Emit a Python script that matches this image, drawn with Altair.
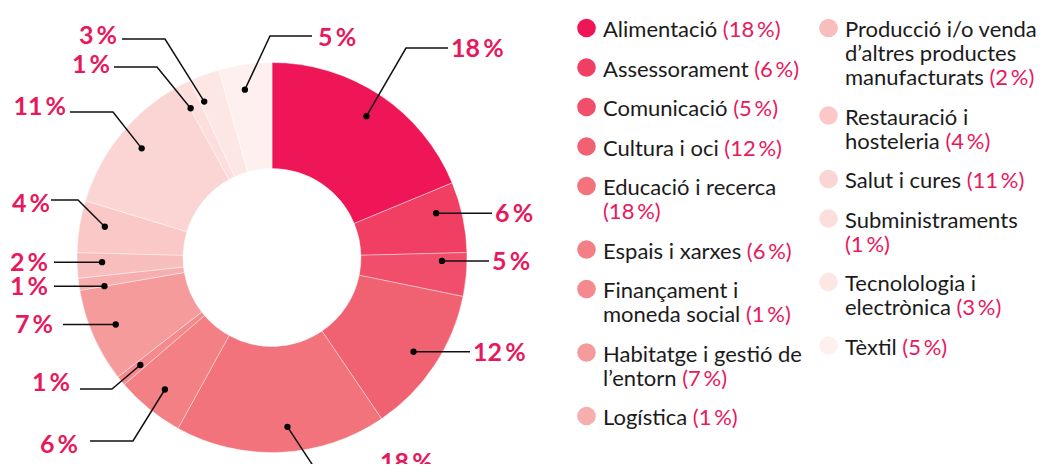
import math
import altair as alt
import pandas as pd

# ---------------- data ----------------
CATEGORIES = [
    "Alimentació", "Assessorament", "Comunicació", "Cultura i oci",
    "Educació i recerca", "Espais i xarxes", "Finançament i moneda social",
    "Habitatge i gestió de l’entorn", "Logística",
    "Producció i/o venda d’altres productes manufacturats",
    "Restauració i hosteleria", "Salut i cures", "Subministraments",
    "Tecnolologia i electrònica", "Tèxtil",
]
# slice sizes as read from the drawn wedges (%)
SHARES = [18.75, 5.85, 3.6, 12.3, 17.5, 5.7, 0.8, 7.8, 1.0, 2.1, 4.3, 12.3, 1.1, 2.5, 4.4]
# percentages printed on the chart
PCT_LABELS = [18, 6, 5, 12, 18, 6, 1, 7, 1, 2, 4, 11, 1, 3, 5]
COLORS = [
    "#EE1657", "#F03F62", "#F04E6A", "#F06172", "#F2737C", "#F38085",
    "#F48A8D", "#F59B9C", "#F6AEAE", "#F8BEBE", "#FAC9C7", "#FBD5D3",
    "#FCDEDC", "#FDE7E5", "#FEF0EE",
]
# legend wording, wrapped as in the original (pct appended to last line)
LEGEND_LINES = [
    ["Alimentació"], ["Assessorament"], ["Comunicació"], ["Cultura i oci"],
    ["Educació i recerca", ""], ["Espais i xarxes"],
    ["Finançament i", "moneda social"], ["Habitatge i gestió de", "l’entorn"],
    ["Logística"],
    ["Producció i/o venda", "d’altres productes", "manufacturats"],
    ["Restauració i", "hosteleria"], ["Salut i cures"], ["Subministraments", ""],
    ["Tecnolologia i", "electrònica"], ["Tèxtil"],
]

# ---------------- layout ----------------
W, H, OFF = 1032, 456, 8
CX, CY = 272, 257.5
R_OUT, R_IN, R_DOT = 195, 89, 170
PINK = "#E8185C"
INK = "#1B1B1B"
FONT = "Lato"
LEG_FS = 22
LAB_FS = 25

# per label: (position inside slice, align, text x, text y, elbow x, elbow y, line end x)
LABEL_LAYOUT = [
    (0.50, "left", 451, 48, 406, 48, 448),
    (0.35, "left", 495, None, None, None, 492),
    (0.20, "left", 492, None, None, None, 489),
    (0.50, "left", 473, None, None, None, 470),
    (0.46, "left", 380, 462, 329, 490, 377),
    (0.50, "right", 78, 444, 133, 441, 90),
    (0.50, "right", 70, 382, 112, 389, 80),
    (0.52, "right", 53, None, None, None, 63),
    (0.00, "right", 48, None, None, None, 54),
    (0.60, "right", 48, None, None, None, 54),
    (0.58, "right", 50, 203, 78, 200, 51),
    (0.52, "right", 66, 106, 113, 112, 70),
    (0.05, "right", 110, 64, 157, 67, 114),
    (0.15, "right", 117, 35, 165, 39, 122),
    (0.42, "left", 318, 37, 270, 36, 312),
]

LEG_COLS = [(0, 9, 586.5, 603), (9, 15, 828.5, 845)]
LEG_Y0, LEG_GAP, LEG_LH = 28, 39.5, 24

# ---------------- derived tables ----------------
donut = pd.DataFrame({"category": CATEGORIES, "share": SHARES,
                      "idx": list(range(len(CATEGORIES)))})

total = sum(SHARES)
cum = [0.0]
for s in SHARES:
    cum.append(cum[-1] + s)

dots, line_pts, labels = [], [], []
for i, (frac, align, tx, ty, ex, ey, endx) in enumerate(LABEL_LAYOUT):
    a = (cum[i] + frac * SHARES[i]) / total * 2 * math.pi
    dx_ = CX + R_DOT * math.sin(a)
    dy_ = CY - R_DOT * math.cos(a)
    dots.append({"x": dx_, "y": dy_})
    pts = [(dx_, dy_)]
    if ex is not None:
        pts.append((ex, ey))
        ly = ey
    else:
        ly = dy_
    pts.append((endx, ly))
    for k, (px, py) in enumerate(pts):
        line_pts.append({"lab": i, "seq": k, "x": px, "y": py})
    labels.append({"x": tx, "y": (ty if ty is not None else dy_) + 9,
                   "text": f"{PCT_LABELS[i]}\u2009%", "align": align})

dots_df = pd.DataFrame(dots)
lines_df = pd.DataFrame(line_pts)
lab_df = pd.DataFrame(labels)

leg_dots, leg_text = [], []
for start, stop, cxl, txl in LEG_COLS:
    y = LEG_Y0
    for i in range(start, stop):
        leg_dots.append({"x": cxl, "y": y, "category": CATEGORIES[i]})
        lines = LEGEND_LINES[i]
        for k, ln in enumerate(lines):
            pct = f"({PCT_LABELS[i]}\u2009%)"
            if k == len(lines) - 1:
                full = (ln + " " + pct) if ln else pct
            else:
                full = ln
            leg_text.append({"x": txl, "y": y + k * LEG_LH + 9,
                             "full": full, "name": ln})
        y += (len(lines) - 1) * LEG_LH + LEG_GAP

leg_dots_df = pd.DataFrame(leg_dots)
leg_text_df = pd.DataFrame(leg_text)

# ---------------- chart ----------------
xs = alt.Scale(domain=[OFF, OFF + W], range=[0, W], nice=False, zero=False)
ys = alt.Scale(domain=[OFF, OFF + H], range=[0, H], nice=False, zero=False)
color_scale = alt.Scale(domain=CATEGORIES, range=COLORS)


def XY():
    return dict(x=alt.X("x:Q", scale=xs, axis=None),
                y=alt.Y("y:Q", scale=ys, axis=None))


arc = alt.Chart(donut).mark_arc(
    radius=R_OUT, radius2=R_IN, stroke="white", strokeWidth=0.4
).encode(
    theta=alt.Theta("share:Q", stack=True),
    order=alt.Order("idx:Q", sort="ascending"),
    color=alt.Color("category:N", scale=color_scale, legend=None),
    x=alt.XDatum(CX, type="quantitative", scale=xs, axis=None),
    y=alt.YDatum(CY, type="quantitative", scale=ys, axis=None),
)

leaders = alt.Chart(lines_df).mark_line(
    color="#111111", strokeWidth=1.5
).encode(detail="lab:N", order="seq:Q", **XY())

dot_layer = alt.Chart(dots_df).mark_circle(
    color="#000000", size=40, opacity=1
).encode(**XY())

lab_left = alt.Chart(lab_df[lab_df["align"] == "left"]).mark_text(
    align="left", baseline="alphabetic", font=FONT, fontSize=LAB_FS,
    fontWeight="bold", color=PINK
).encode(text="text:N", **XY())

lab_right = alt.Chart(lab_df[lab_df["align"] == "right"]).mark_text(
    align="right", baseline="alphabetic", font=FONT, fontSize=LAB_FS,
    fontWeight="bold", color=PINK
).encode(text="text:N", **XY())

leg_circles = alt.Chart(leg_dots_df).mark_circle(size=346, opacity=1).encode(
    color=alt.Color("category:N", scale=color_scale, legend=None), **XY()
)

leg_pink = alt.Chart(leg_text_df).mark_text(
    align="left", baseline="alphabetic", font=FONT, fontSize=LEG_FS, color=PINK
).encode(text="full:N", **XY())

leg_erase = alt.Chart(leg_text_df).mark_text(
    align="left", baseline="alphabetic", font=FONT, fontSize=LEG_FS,
    fill="white", stroke="white", strokeWidth=1.6
).encode(text="name:N", **XY())

leg_ink = alt.Chart(leg_text_df).mark_text(
    align="left", baseline="alphabetic", font=FONT, fontSize=LEG_FS, color=INK
).encode(text="name:N", **XY())

chart = alt.layer(
    arc, leaders, dot_layer, lab_left, lab_right,
    leg_circles, leg_pink, leg_erase, leg_ink
).properties(
    width=W, height=H, padding=0, autosize=alt.AutoSizeParams(type="none")
).configure_view(stroke=None)

chart.save("out.html", embed_options={"renderer": "svg", "actions": False})
